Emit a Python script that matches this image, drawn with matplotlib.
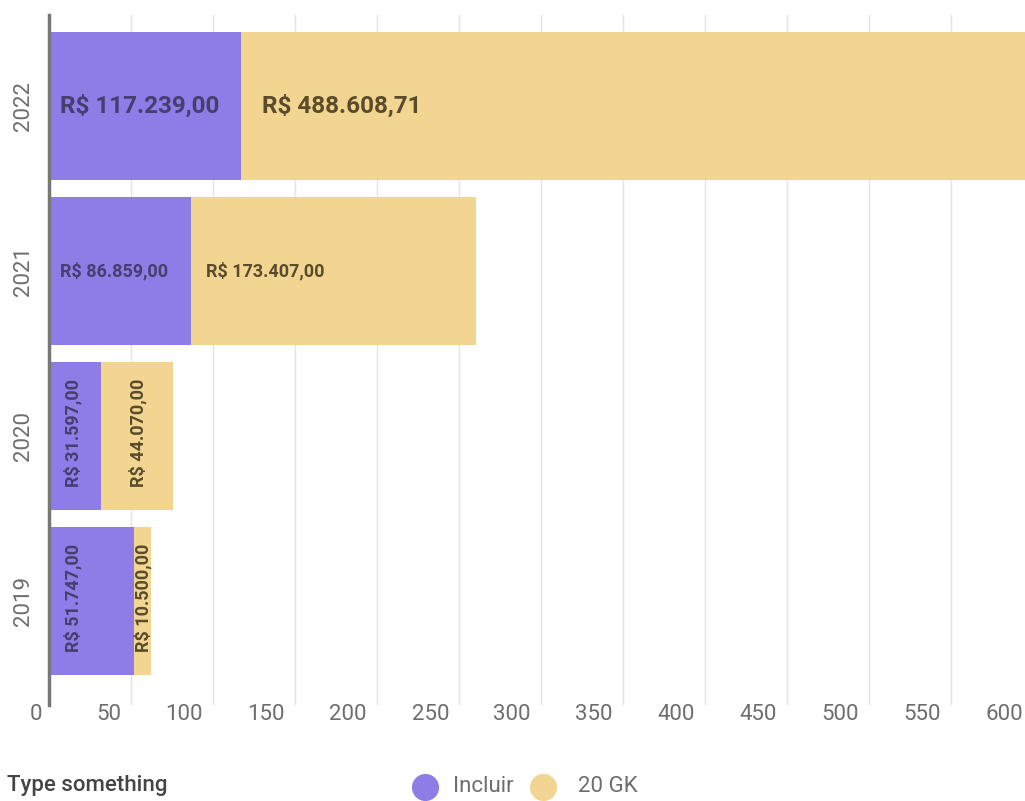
import matplotlib
matplotlib.use("Agg")
import matplotlib.pyplot as plt
from matplotlib.lines import Line2D

years = ["2019", "2020", "2021", "2022"]
incluir = [51.747, 31.597, 86.859, 117.239]
gk20 = [10.500, 44.070, 173.407, 488.60871]
incluir_labels = ["R$ 51.747,00", "R$ 31.597,00", "R$ 86.859,00", "R$ 117.239,00"]
gk20_labels = ["R$ 10.500,00", "R$ 44.070,00", "R$ 173.407,00", "R$ 488.608,71"]
xticks = [0, 50, 100, 150, 200, 250, 300, 350, 400, 450, 500, 550, 600]
series_names = ["Incluir", "20 GK"]

PURPLE = "#8e7de6"
YELLOW = "#f2d590"
TXT_P = "#473d6e"
TXT_Y = "#5a4b2c"
GRAY = "#6e6e6e"

plt.rcParams['font.family'] = ['Roboto', 'DejaVu Sans']

fig = plt.figure(figsize=(10.25, 8.01), dpi=100)
W, H = 1025, 801
ax = fig.add_axes([49 / W, 1 - 705 / H, (1040 - 49) / W, (705 - 15) / H])

ypos = list(range(len(years)))
ax.barh(ypos, incluir, height=0.9, color=PURPLE, zorder=2)
ax.barh(ypos, gk20, left=incluir, height=0.9, color=YELLOW, zorder=2)

ax.set_xlim(0, (1040 - 49) / 1.64)
ax.set_ylim(-0.63, 3.55)

# grid
for t in xticks[1:]:
    ax.axvline(t, color="#e3e3e3", lw=1, zorder=1)
ax.set_xticks([])
ax.set_yticks([])
for s in ["top", "right", "bottom"]:
    ax.spines[s].set_visible(False)
ax.spines["left"].set_color("#777777")
ax.spines["left"].set_linewidth(2.5)
ax.spines["left"].set_zorder(3)

# x tick labels: right-aligned just left of grid line
for t in xticks:
    ax.annotate(str(t), xy=(t, 0), xycoords=("data", "axes fraction"),
                xytext=(-10 if t else -7, -10), textcoords="offset pixels",
                ha="right", va="center", fontsize=16, color=GRAY)

# y tick labels
for y, lab in zip(ypos, years):
    ax.annotate(lab, xy=(0, y), xycoords=("axes fraction", "data"),
                xytext=(-26, 0), textcoords="offset pixels",
                ha="center", va="center", rotation=90, fontsize=16, color=GRAY)

# bar labels
for i, y in enumerate(ypos):
    yr = years[i]
    if yr in ("2022", "2021"):
        fs = 17.5 if yr == "2022" else 13
        padp = 11
        pady = 21 if yr == "2022" else 15
        ax.annotate(incluir_labels[i], xy=(0, y), xytext=(padp, 0),
                    textcoords="offset pixels", ha="left", va="center",
                    fontsize=fs, fontweight="bold", color=TXT_P, zorder=4)
        ax.annotate(gk20_labels[i], xy=(incluir[i], y), xytext=(pady, 0),
                    textcoords="offset pixels", ha="left", va="center",
                    fontsize=fs, fontweight="bold", color=TXT_Y, zorder=4)
    else:
        top = y + 0.45
        ax.annotate(incluir_labels[i], xy=(0, top), xytext=(24, -17),
                    textcoords="offset pixels", ha="center", va="top",
                    rotation=90, fontsize=13, fontweight="bold", color=TXT_P, zorder=4)
        ax.annotate(gk20_labels[i], xy=(incluir[i] + gk20[i] / 2, top),
                    xytext=(1, -17), textcoords="offset pixels", ha="center", va="top",
                    rotation=90, fontsize=13, fontweight="bold", color=TXT_Y, zorder=4)

# footer
fig.text(7 / W, 1 - 785 / H, "Type something", ha="left", va="center",
         fontsize=16, color="#444444", fontweight="medium")

legend_x = [425, 543]
legend_gap = [28, 35]
for (cx, gap, name, col) in zip(legend_x, legend_gap, series_names, [PURPLE, YELLOW]):
    fig.add_artist(Line2D([cx / W], [1 - 787 / H], marker="o", ls="none",
                          markersize=18.5, color=col, transform=fig.transFigure))
    fig.text((cx + gap) / W, 1 - 786 / H, name, ha="left", va="center",
             fontsize=16, color=GRAY)

fig.savefig("out.png", dpi=100)
